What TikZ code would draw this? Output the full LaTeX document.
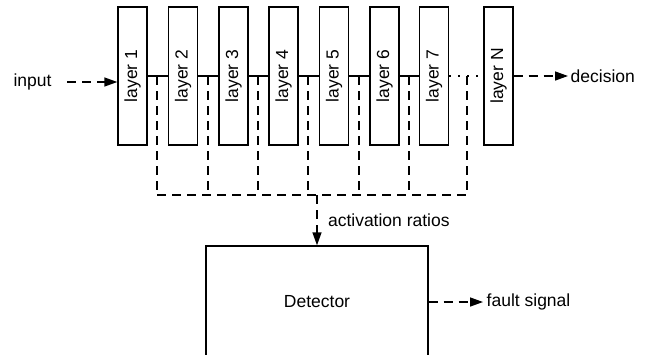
\documentclass[tikz,border=0pt]{standalone}
\usepackage{fontspec}
\setmainfont{Liberation Sans}
\usetikzlibrary{arrows.meta}

\begin{document}
\begin{tikzpicture}[x=1pt, y=-1pt, line width=1.4pt,
        font=\fontsize{17.5}{20}\selectfont,
        layer/.style={draw, minimum width=29pt, minimum height=138pt, inner sep=0pt},
        tap/.style={dash pattern=on 9pt off 6pt},
        flow/.style={tap, -{Triangle[length=13pt, width=9pt]}}]
            \useasboundingbox (0,0) rectangle (663,354);

            \foreach \i/\x in {1/132.5, 2/183, 3/233.5, 4/283.5, 5/334, 6/384.5, 7/434, N/498.5}
                \node[layer] (l\i) at (\x, 76) {\rotatebox{90}{layer \i}};
            \foreach \i [count=\j from 2] in {1,...,6}
                \draw (l\i.east) -- (l\j.west);
            \draw[dash pattern=on 2pt off 7pt] (l7.east) -- (lN.west);

            \foreach \i/\x in {1/157, 2/208, 3/258, 4/308, 5/359, 6/409, 7/467} {
                \coordinate (t\i) at (\x, 76);
                \coordinate (b\i) at (\x, 195);
                \draw[tap] (t\i) -- (b\i);
            }
            \draw[tap] (b1) -- (b7);

            \node (input) at (32.5, 82) {input};
            \coordinate (in) at (67, 82);
            \draw[flow] (in) -- (in -| l1.west);

            \node[anchor=west, inner sep=2pt] (decision) at (568, 76) {decision};
            \draw[flow] (lN.east) -- (decision.west);

            \node[draw, minimum width=222pt, minimum height=112pt] (detector) at (317, 302) {Detector};
            \coordinate (bus) at (317, 195);
            \draw[flow] (bus) -- (detector.north) node[midway, right, xshift=7pt] {activation ratios};

            \node[anchor=west, inner sep=3pt] (fault) at (483, 302) {fault signal};
            \draw[flow] (detector.east |- fault) -- (fault.west);
        \end{tikzpicture}
\end{document}
